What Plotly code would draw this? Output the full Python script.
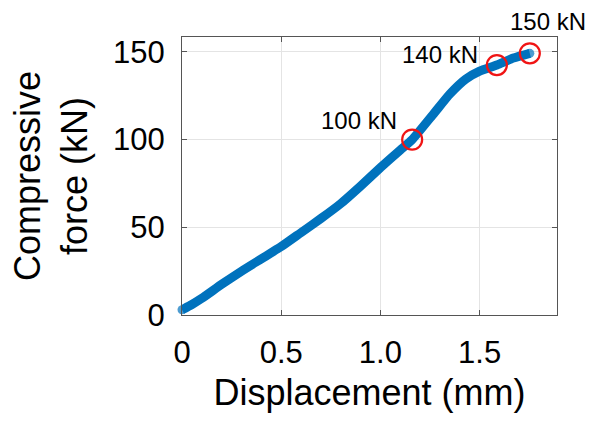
import plotly.graph_objects as go

# Force-displacement curve
disp_mm = [0.0, 0.05, 0.1, 0.2, 0.3, 0.4, 0.5, 0.6, 0.7, 0.8, 0.9, 1.0, 1.1,
           1.16, 1.27, 1.35, 1.43, 1.5, 1.587, 1.67, 1.753]
force_kN = [3.0, 6.0, 9.5, 17.5, 25.0, 32.0, 39.0, 47.0, 55.0, 63.5, 73.5, 84.0, 94.0,
            100.0, 115.0, 126.0, 134.5, 139.0, 142.5, 146.5, 149.2]

# Highlighted load levels
mark_disp = [1.16, 1.587, 1.753]
mark_force = [100.0, 142.5, 149.2]
mark_labels = ["100 kN", "140 kN", "150 kN"]
label_x = [0.892, 1.300, 1.845]
label_y = [110.9, 148.5, 167.6]

x_ticks = [0, 0.5, 1.0, 1.5]
x_tick_text = ["0", "0.5", "1.0", "1.5"]
y_ticks = [0, 50, 100, 150]
X_MAX = 1.89
Y_MAX = 158.5

FONT = "Liberation Sans, Arial, Helvetica, sans-serif"
BLUE = "#0072BD"

fig = go.Figure()
fig.add_trace(go.Scatter(
    x=disp_mm, y=force_kN, mode="lines+markers",
    line=dict(color=BLUE, width=9, shape="spline", smoothing=0.5),
    marker=dict(color=BLUE, size=[9] + [0] * (len(disp_mm) - 2) + [9],
                line=dict(width=0)),
    showlegend=False, cliponaxis=False,
))
fig.add_trace(go.Scatter(
    x=mark_disp, y=mark_force, mode="markers",
    marker=dict(symbol="circle-open", size=20, color="#F01414", line=dict(width=2.2)),
    showlegend=False, cliponaxis=False,
))

for lx, ly, t in zip(label_x, label_y, mark_labels):
    fig.add_annotation(x=lx / X_MAX, y=ly / Y_MAX, xref="x domain", yref="y domain",
                       text=t, showarrow=False, xanchor="center",
                       yanchor="middle", font=dict(family=FONT, size=24, color="#000"))

axis_common = dict(
    showline=True, linecolor="#555", linewidth=1, mirror="ticks",
    ticks="inside", ticklen=5, tickcolor="#555",
    showgrid=True, gridcolor="#e4e4e4", gridwidth=1, zeroline=False,
    tickfont=dict(family=FONT, size=31, color="#000"),
)

fig.update_xaxes(range=[0, X_MAX], tickvals=x_ticks, ticktext=x_tick_text,
                 ticklabelstandoff=10,
                 title=dict(text="Displacement (mm)", font=dict(family=FONT, size=36, color="#000"),
                            standoff=10),
                 **axis_common)
fig.update_yaxes(range=[0, Y_MAX], tickvals=y_ticks, ticklabelstandoff=10,
                 title=dict(text="Compressive<br>force (kN)", font=dict(family=FONT, size=36, color="#000"),
                            standoff=14),
                 **axis_common)

fig.update_layout(
    width=593, height=423,
    margin=dict(l=182, r=36, t=37, b=108),
    plot_bgcolor="white", paper_bgcolor="white",
)

fig.write_html("out.html")
